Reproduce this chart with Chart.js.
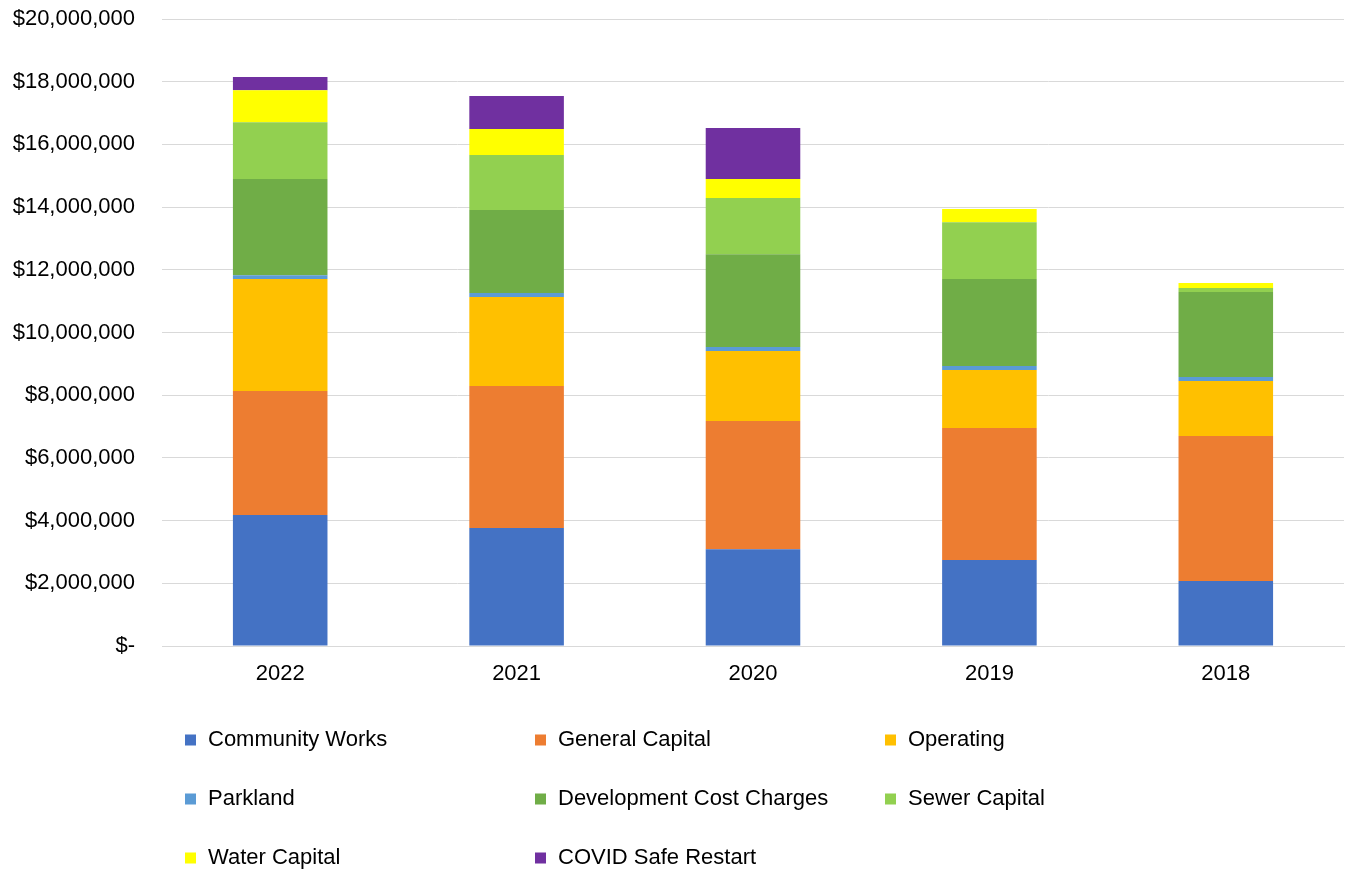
<!DOCTYPE html>
<html>
<head>
<meta charset="utf-8">
<script src="https://cdn.jsdelivr.net/npm/chart.js@4.4.1/dist/chart.umd.min.js"></script>
<style>
  html, body { margin: 0; padding: 0; background: #fff; }
  #wrap { position: relative; width: 1346px; height: 869px; }
</style>
</head>
<body>
<div id="wrap"><canvas id="c" width="1346" height="869"></canvas></div>
<script>
const categories = ['2022', '2021', '2020', '2019', '2018'];

const communityWorks   = [4180000, 3760000, 3090000, 2740000, 2070000];
const generalCapital   = [3950000, 4530000, 4090000, 4210000, 4630000];
const operating        = [3580000, 2840000, 2230000, 1850000, 1750000];
const parkland         = [120000, 130000, 130000, 130000, 130000];
const developmentCost  = [3070000, 2650000, 2960000, 2780000, 2710000];
const sewerCapital     = [1810000, 1750000, 1790000, 1810000, 130000];
const waterCapital     = [1020000, 830000, 610000, 420000, 160000];
const covidSafeRestart = [420000, 1050000, 1620000, 0, 0];

const yTickValues = [0, 2000000, 4000000, 6000000, 8000000, 10000000, 12000000, 14000000, 16000000, 18000000, 20000000];

const FONT = '"Liberation Sans", Arial, sans-serif';
const FS = 22;

const legendPlugin = {
  id: 'gridLegend',
  afterDraw(chart) {
    const ctx = chart.ctx;
    const colX = [185, 535, 885];
    const rowY = [740, 799, 858];
    ctx.save();
    ctx.font = FS + 'px ' + FONT;
    ctx.textBaseline = 'middle';
    ctx.textAlign = 'left';
    chart.data.datasets.forEach((ds, i) => {
      const x = colX[i % 3];
      const y = rowY[Math.floor(i / 3)];
      ctx.fillStyle = ds.backgroundColor;
      ctx.fillRect(x, y - 5.5, 11, 11);
      ctx.fillStyle = '#000';
      ctx.fillText(ds.label, x + 23, y);
    });
    ctx.restore();
  }
};

new Chart(document.getElementById('c'), {
  type: 'bar',
  data: {
    labels: categories,
    datasets: [
      { label: 'Community Works', data: communityWorks, backgroundColor: '#4472C4' },
      { label: 'General Capital', data: generalCapital, backgroundColor: '#ED7D31' },
      { label: 'Operating', data: operating, backgroundColor: '#FFC000' },
      { label: 'Parkland', data: parkland, backgroundColor: '#5B9BD5' },
      { label: 'Development Cost Charges', data: developmentCost, backgroundColor: '#70AD47' },
      { label: 'Sewer Capital', data: sewerCapital, backgroundColor: '#92D050' },
      { label: 'Water Capital', data: waterCapital, backgroundColor: '#FFFF00' },
      { label: 'COVID Safe Restart', data: covidSafeRestart, backgroundColor: '#7030A0' }
    ]
  },
  options: {
    responsive: false,
    animation: false,
    devicePixelRatio: 1,
    layout: { padding: { top: 19, right: 2, left: 0, bottom: 163 } },
    datasets: { bar: { categoryPercentage: 1.0, barPercentage: 0.4, borderWidth: 0 } },
    plugins: {
      legend: { display: false },
      tooltip: { enabled: false }
    },
    scales: {
      x: {
        stacked: true,
        grid: { display: false, drawTicks: false },
        border: { display: true, color: '#d9d9d9', width: 1 },
        ticks: { color: '#000', font: { family: FONT, size: FS }, padding: 15 },
        afterFit(s) { s.height = 60; s.paddingLeft = 0; s.paddingRight = 0; }
      },
      y: {
        stacked: true,
        min: 0,
        max: 20000000,
        afterBuildTicks(s) { s.ticks = yTickValues.map(v => ({ value: v })); },
        grid: { color: '#d9d9d9', lineWidth: 1, drawTicks: false },
        border: { display: false },
        ticks: {
          color: '#000',
          font: { family: FONT, size: FS },
          padding: 27,
          callback(v) { return v === 0 ? '$-' : '$' + Number(v).toLocaleString('en-US'); }
        },
        afterFit(s) { s.width = 162; s.paddingTop = 0; s.paddingBottom = 0; }
      }
    }
  },
  plugins: [legendPlugin]
});
</script>
</body>
</html>
